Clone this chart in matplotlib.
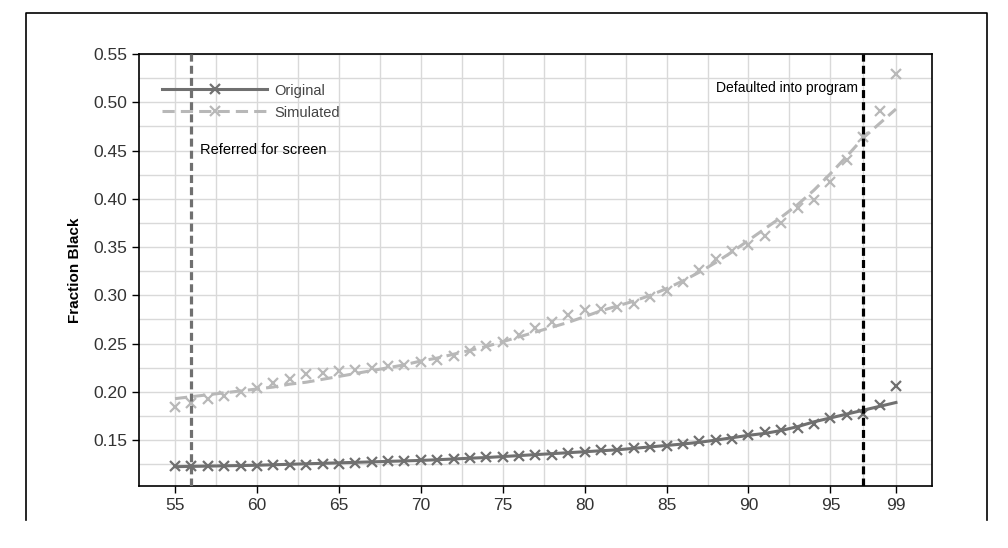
import matplotlib.pyplot as plt
from matplotlib.lines import Line2D
from matplotlib.ticker import MultipleLocator, FixedLocator, FormatStrFormatter

# percentiles on the x axis
percentiles = list(range(55, 100))

# observed points
original_pts = [0.1228, 0.1228, 0.1234, 0.1232, 0.1232, 0.1232, 0.1240, 0.1240, 0.1246,
                0.1253, 0.1257, 0.1264, 0.1271, 0.1281, 0.1288, 0.1291, 0.1298, 0.1305,
                0.1312, 0.1322, 0.1329, 0.1339, 0.1345, 0.1351, 0.1369, 0.1379, 0.1393,
                0.1400, 0.1414, 0.1427, 0.1438, 0.1462, 0.1486, 0.1497, 0.1514, 0.1552,
                0.1587, 0.1601, 0.1622, 0.1671, 0.1733, 0.1764, 0.1768, 0.1865, 0.2063]
simulated_pts = [0.1848, 0.1889, 0.1931, 0.1958, 0.2000, 0.2035, 0.2091, 0.2132, 0.2184,
                 0.2195, 0.2212, 0.2229, 0.2243, 0.2264, 0.2281, 0.2313, 0.2333, 0.2368,
                 0.2420, 0.2479, 0.2514, 0.2590, 0.2660, 0.2723, 0.2799, 0.2844, 0.2854,
                 0.2879, 0.2914, 0.2983, 0.3046, 0.3140, 0.3260, 0.3372, 0.3458, 0.3521,
                 0.3617, 0.3749, 0.3904, 0.3990, 0.4169, 0.4403, 0.4645, 0.4913, 0.5293]

# smoothed fits
original_fit = [0.1225, 0.1228, 0.1231, 0.1234, 0.1237, 0.1240, 0.1245, 0.1250, 0.1255,
                0.1260, 0.1265, 0.1270, 0.1275, 0.1280, 0.1285, 0.1290, 0.1297, 0.1305,
                0.1313, 0.1320, 0.1330, 0.1340, 0.1350, 0.1360, 0.1370, 0.1380, 0.1390,
                0.1400, 0.1415, 0.1430, 0.1445, 0.1460, 0.1478, 0.1500, 0.1525, 0.1550,
                0.1570, 0.1600, 0.1640, 0.1690, 0.1730, 0.1770, 0.1810, 0.1850, 0.1890]
simulated_fit = [0.193, 0.195, 0.197, 0.199, 0.201, 0.203, 0.205, 0.208, 0.210,
                 0.213, 0.216, 0.219, 0.222, 0.225, 0.228, 0.232, 0.235, 0.239,
                 0.243, 0.247, 0.252, 0.257, 0.262, 0.267, 0.272, 0.278, 0.284,
                 0.289, 0.294, 0.300, 0.307, 0.315, 0.324, 0.334, 0.345, 0.357,
                 0.369, 0.381, 0.394, 0.409, 0.426, 0.444, 0.463, 0.478, 0.493]

x_ticks = [55, 60, 65, 70, 75, 80, 85, 90, 95, 99]
x_minor = [57.5, 62.5, 67.5, 72.5, 77.5, 82.5, 87.5, 92.5, 97]
referred_cut = 56
default_cut = 97

dark = "#707070"
light = "#b8b8b8"

plt.rcParams['font.family'] = ['Liberation Sans', 'DejaVu Sans']

fig = plt.figure(figsize=(10.08, 5.48), dpi=100)
ax = fig.add_axes([139 / 1008, 1 - 486 / 548, (932 - 139) / 1008, (486 - 54) / 548])

# outer frame (open at the bottom)
fx = [26 / 1008, 26 / 1008, 987 / 1008, 987 / 1008]
fy = [1 - 520 / 548, 1 - 13 / 548, 1 - 13 / 548, 1 - 520 / 548]
fig.add_artist(Line2D(fx, fy, color="black", lw=1.2, transform=fig.transFigure))

ax.plot(percentiles, simulated_fit, color=light, lw=2.2, ls=(0, (4, 2)), zorder=3)
ax.plot(percentiles, simulated_pts, ls="none", marker="x", ms=7, mew=1.6, color=light, zorder=3)
ax.plot(percentiles, original_fit, color=dark, lw=2.2, zorder=4)
ax.plot(percentiles, original_pts, ls="none", marker="x", ms=7, mew=1.6, color=dark, zorder=4)

ax.axvline(referred_cut, color=dark, lw=2.3, ls=(0, (2.5, 1.3)), zorder=5)
ax.axvline(default_cut, color="black", lw=2.3, ls=(0, (2.5, 1.3)), zorder=5)

ax.text(referred_cut + 0.5, 0.4507, "Referred for screen", fontsize=10.5, va="center", ha="left")
ax.text(default_cut - 0.3, 0.5148, "Defaulted into program", fontsize=10, va="center", ha="right")

ax.set_xlim(52.8, 101.2)
ax.set_ylim(0.1025, 0.55)
ax.xaxis.set_major_locator(FixedLocator(x_ticks))
ax.xaxis.set_minor_locator(FixedLocator(x_minor))
ax.yaxis.set_major_locator(MultipleLocator(0.05))
ax.yaxis.set_minor_locator(MultipleLocator(0.025))
ax.yaxis.set_major_formatter(FormatStrFormatter("%.2f"))

ax.grid(which="both", color="#d9d9d9", lw=1.0, zorder=0)
ax.set_axisbelow(True)
ax.tick_params(which="major", direction="out", length=5, width=1, labelsize=12.5, colors="black",
               labelcolor="#333333")
ax.tick_params(which="minor", length=0)
for s in ax.spines.values():
    s.set_linewidth(1.2)
    s.set_color("black")

ax.set_ylabel("Fraction Black", fontsize=11, fontweight="bold", labelpad=8)

handles = [Line2D([], [], color=dark, lw=2.2, marker="x", ms=7, mew=1.6),
           Line2D([], [], color=light, lw=2.2, ls=(0, (4, 2)), marker="x", ms=7, mew=1.6)]
leg = ax.legend(handles, ["Original", "Simulated"], loc="upper left", bbox_to_anchor=(0.0126, 0.962),
                frameon=False, fontsize=10.5, handlelength=7.2, numpoints=1, labelspacing=0.55,
                handletextpad=0.5)
for t in leg.get_texts():
    t.set_color("#444444")

fig.savefig("out.png", dpi=100)
